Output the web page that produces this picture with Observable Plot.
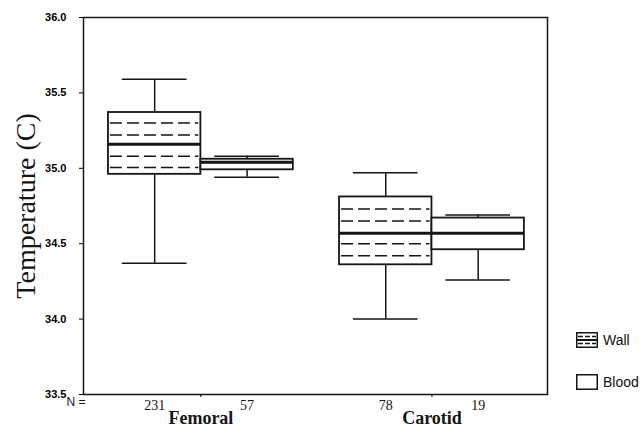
<!DOCTYPE html>
<html>
<head>
<meta charset="utf-8">
<script src="https://cdn.jsdelivr.net/npm/d3@7"></script>
<script src="https://cdn.jsdelivr.net/npm/@observablehq/plot@0.6"></script>
<style>
  html, body { margin: 0; padding: 0; background: #fff; }
  #wrap { position: relative; width: 642px; height: 434px; overflow: hidden; }
  .legend { position: absolute; font-family: "Liberation Sans", Arial, sans-serif; font-size: 14px; color: #111; display: flex; align-items: center; white-space: nowrap; }
  .legend svg { margin-right: 5px; }
</style>
</head>
<body>
<div id="wrap"></div>
<script>
// ---- data ----
const groups = ["Femoral", "Carotid"];
const series = ["Wall", "Blood"];
const counts = [231, 57, 78, 19];            // Femoral-Wall, Femoral-Blood, Carotid-Wall, Carotid-Blood
const upperWhisker = [35.59, 35.08, 34.97, 34.69];
const q3 = [35.37, 35.06, 34.81, 34.67];
const median = [35.16, 35.04, 34.57, 34.57];
const q1 = [34.96, 34.99, 34.36, 34.46];
const lowerWhisker = [34.37, 34.94, 34.00, 34.26];
// additional percentile lines drawn (dashed) in the Wall boxes
const wallPercentiles = [[35.30, 35.22, 35.08, 35.005], [34.73, 34.65, 34.50, 34.42]];
const yTicks = [33.5, 34.0, 34.5, 35.0, 35.5, 36.0];

// ---- build table ----
const groupPos = g => 1 + 2.5 * groups.indexOf(g);
const boxes = [];
groups.forEach((g, gi) => series.forEach((s, si) => {
  const k = gi * 2 + si;
  const c = groupPos(g);
  const x1 = s === "Wall" ? c - 1 : c;
  boxes.push({group: g, series: s, x1, x2: x1 + 1, xm: x1 + 0.5,
    lo: lowerWhisker[k], q1: q1[k], med: median[k], q3: q3[k], hi: upperWhisker[k], n: counts[k]});
}));
const dashes = [];
groups.forEach((g, gi) => {
  const b = boxes.find(d => d.group === g && d.series === "Wall");
  wallPercentiles[gi].forEach(v => dashes.push({x1: b.x1, x2: b.x2, y: v}));
});
const ink = "#151515";
const serif = "'Liberation Serif', 'Times New Roman', serif";

const chart = Plot.plot({
  width: 642,
  height: 434,
  marginLeft: 83,
  marginRight: 95,
  marginTop: 17,
  marginBottom: 40,
  style: {fontFamily: "'Liberation Sans', Arial, sans-serif", background: "#fff"},
  x: {domain: [-0.27, 4.75]},
  y: {domain: [33.5, 36.0]},
  marks: [
    // whiskers
    Plot.ruleX(boxes, {x: "xm", y1: "q3", y2: "hi", stroke: ink, strokeWidth: 1.5}),
    Plot.ruleX(boxes, {x: "xm", y1: "lo", y2: "q1", stroke: ink, strokeWidth: 1.5}),
    Plot.ruleY(boxes, {y: "hi", x1: d => d.xm - 0.35, x2: d => d.xm + 0.35, stroke: ink, strokeWidth: 1.5}),
    Plot.ruleY(boxes, {y: "lo", x1: d => d.xm - 0.35, x2: d => d.xm + 0.35, stroke: ink, strokeWidth: 1.5}),
    // boxes
    Plot.rect(boxes, {x1: "x1", x2: "x2", y1: "q1", y2: "q3", fill: "#fff", stroke: ink, strokeWidth: 1.8}),
    Plot.ruleY(dashes, {y: "y", x1: "x1", x2: "x2", stroke: ink, strokeWidth: 1.5, strokeDasharray: "12,5", insetLeft: 2, insetRight: 2}),
    Plot.ruleY(boxes, {y: "med", x1: "x1", x2: "x2", stroke: ink, strokeWidth: 3}),
    // frame and axes
    Plot.frame({stroke: ink, strokeWidth: 1.5}),
    Plot.axisY({ticks: yTicks, tickFormat: d => d.toFixed(1), tickSize: 4, tickPadding: 13,
      fontSize: 11, fontWeight: "bold", label: null}),
    Plot.axisX({ticks: groups.map(groupPos), tickSize: 3, tickFormat: () => "", label: null}),
    // N counts and group names
    Plot.text(["N ="], {frameAnchor: "bottom-left", text: d => d, textAnchor: "end", dx: 2, dy: 11,
      fontSize: 12, fill: ink}),
    Plot.text(boxes, {x: "xm", text: d => String(d.n), frameAnchor: "bottom", dy: 15,
      fontSize: 14, fontFamily: serif, fill: ink}),
    Plot.text(groups, {x: groupPos, text: d => d, frameAnchor: "bottom", dy: 29,
      fontSize: 18, fontWeight: "bold", fontFamily: serif, fill: ink}),
    // y label
    Plot.text(["Temperature (C)"], {frameAnchor: "left", textAnchor: "middle", text: d => d, rotate: -90, dx: -57,
      fontSize: 28, fontFamily: serif, fill: ink})
  ]
});
const wrap = document.getElementById("wrap");
wrap.appendChild(chart);

// legend (outside the plot frame)
function legendItem(label, top, dashed) {
  const div = document.createElement("div");
  div.className = "legend";
  div.style.left = "576px";
  div.style.top = top + "px";
  let inner = `<rect x="0.75" y="0.75" width="20.5" height="14.5" fill="#fff" stroke="${ink}" stroke-width="1.5"/>`;
  if (dashed) {
    inner += `<line x1="2" x2="20" y1="4.5" y2="4.5" stroke="${ink}" stroke-width="1.3" stroke-dasharray="5,2"/>`;
    inner += `<line x1="1" x2="21" y1="8" y2="8" stroke="${ink}" stroke-width="2"/>`;
    inner += `<line x1="2" x2="20" y1="11.5" y2="11.5" stroke="${ink}" stroke-width="1.3" stroke-dasharray="5,2"/>`;
  }
  div.innerHTML = `<svg width="22" height="16">${inner}</svg><span>${label}</span>`;
  wrap.appendChild(div);
}
legendItem(series[0], 332, true);
legendItem(series[1], 374, false);
</script>
</body>
</html>
